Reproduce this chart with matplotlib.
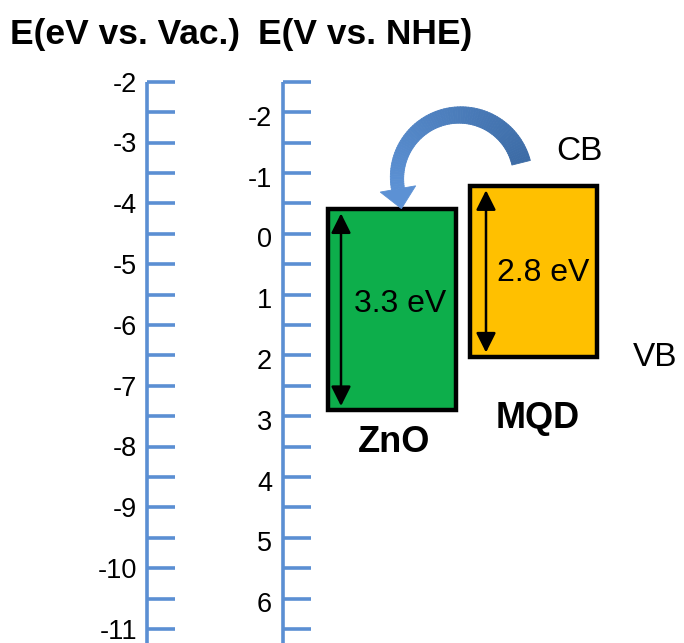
import numpy as np
import matplotlib
matplotlib.use("Agg")
import matplotlib.pyplot as plt
from matplotlib.patches import Rectangle, Polygon
from matplotlib.collections import PolyCollection
from matplotlib.colors import to_rgb

plt.rcParams["font.family"] = ["Liberation Sans", "DejaVu Sans"]

# ---- data -------------------------------------------------------------
vac_labels = [-2, -3, -4, -5, -6, -7, -8, -9, -10, -11]   # eV vs vacuum
nhe_labels = [-2, -1, 0, 1, 2, 3, 4, 5, 6]                # V vs NHE
NHE_ZERO_VAC = -4.5                                        # E_vac of NHE = 0

materials = ["ZnO", "MQD"]
cb_edge = [-4.10, -3.72]     # conduction band edge, eV vs vacuum
band_gap = [3.3, 2.8]        # eV
box_colors = ["#0DAE4B", "#FFC000"]

# ---- figure / axes ----------------------------------------------------
W, H = 684, 643
fig = plt.figure(figsize=(W / 100, H / 100), dpi=100)

# energy axes: x in pixel-like units, y in eV vs vacuum
PX_PER_EV = 60.8
Y_TOP_PX = 81.7          # where -2 eV sits
def e_at(py):
    return -2 - (py - Y_TOP_PX) / PX_PER_EV

ax = fig.add_axes([0, 0, 1, 1])
ax.set_xlim(0, W)
ax.set_ylim(e_at(H), e_at(0))
ax.axis("off")

# overlay in pixel coordinates for titles and annotations
ov = fig.add_axes([0, 0, 1, 1], zorder=3)
ov.set_xlim(0, W)
ov.set_ylim(H, 0)
ov.axis("off")
ov.patch.set_alpha(0)

AXIS_BLUE = "#5B8FD3"
tick_pos = np.arange(-2, -11.01, -0.5)
e_bottom = e_at(H)

# vacuum scale
ax.plot([147, 147], [-2, e_bottom], color=AXIS_BLUE, lw=2.6, solid_capstyle="butt")
ax.hlines(tick_pos, 147, 175, color=AXIS_BLUE, lw=2.6)
for v in vac_labels:
    ax.text(137, v, f"{v}", ha="right", va="center_baseline", fontsize=19.5)

# NHE scale
ax.plot([283, 283], [-2, e_bottom], color=AXIS_BLUE, lw=2.6, solid_capstyle="butt")
ax.hlines(tick_pos, 283, 311, color=AXIS_BLUE, lw=2.6)
for v in nhe_labels:
    ax.text(272, NHE_ZERO_VAC - v - 0.06, f"{v}", ha="right",
            va="center_baseline", fontsize=19.5)

# titles
ov.text(10, 44, "E(eV vs. Vac.)", fontsize=25.5, fontweight="bold", ha="left", va="baseline")
ov.text(258, 44, "E(V vs. NHE)", fontsize=25.5, fontweight="bold", ha="left", va="baseline")

# ---- band boxes -------------------------------------------------------
box_x = [(328, 456), (470, 597)]
arrow_x = [341, 486]
gap_label_pos = [(400, 304), (543, 273)]
name_pos = [(394, 443), (538, 418)]

for name, cb, eg, col, (x0, x1), axx, glp, npos in zip(
        materials, cb_edge, band_gap, box_colors, box_x, arrow_x,
        gap_label_pos, name_pos):
    vb = cb - eg
    ax.add_patch(Rectangle((x0, vb), x1 - x0, eg, facecolor=col,
                           edgecolor="black", lw=3.2, zorder=2))
    inset = 0.065
    ax.annotate("", xy=(axx, vb + inset), xytext=(axx, cb - inset),
                arrowprops=dict(arrowstyle="<|-|>", color="black", lw=1.8,
                                mutation_scale=30, shrinkA=0, shrinkB=0),
                zorder=3)
    ov.text(glp[0], glp[1], f"{eg} eV", fontsize=23, ha="center", va="center")
    ov.text(npos[0], npos[1], name, fontsize=26, fontweight="bold",
            ha="center", va="center")

ov.text(579, 152, "CB", fontsize=24, ha="center", va="center")
ov.text(655, 357, "VB", fontsize=24, ha="center", va="center")

# ---- curved transfer arrow (MQD -> ZnO) --------------------------------
cx, cy, r = 460.0, 178.0, 63.0
th = np.radians(np.linspace(14, 190, 80))
w = np.linspace(19, 13, th.size)
outer = np.column_stack([cx + (r + w / 2) * np.cos(th), cy - (r + w / 2) * np.sin(th)])
inner = np.column_stack([cx + (r - w / 2) * np.cos(th), cy - (r - w / 2) * np.sin(th)])
c0, c1 = np.array(to_rgb("#3D6CA6")), np.array(to_rgb("#5C91D4"))
quads, cols = [], []
for i in range(th.size - 1):
    quads.append([outer[i], outer[i + 1], inner[i + 1], inner[i]])
    t = i / (th.size - 2)
    cols.append(c0 + (c1 - c0) * t)
ov.add_collection(PolyCollection(quads, facecolors=cols, edgecolors=cols, lw=0.6))

te = th[-1]
tang = np.array([-np.sin(te), -np.cos(te)])
rad = np.array([np.cos(te), -np.sin(te)])
base_c = np.array([cx, cy]) + r * rad
head = [np.array([cx, cy]) + (r - 18) * rad,
        np.array([cx, cy]) + (r + 18) * rad,
        base_c + 20 * tang]
ov.add_patch(Polygon(head, closed=True, facecolor=c1, edgecolor=c1, lw=0.6))

fig.savefig("out.png", dpi=100)
